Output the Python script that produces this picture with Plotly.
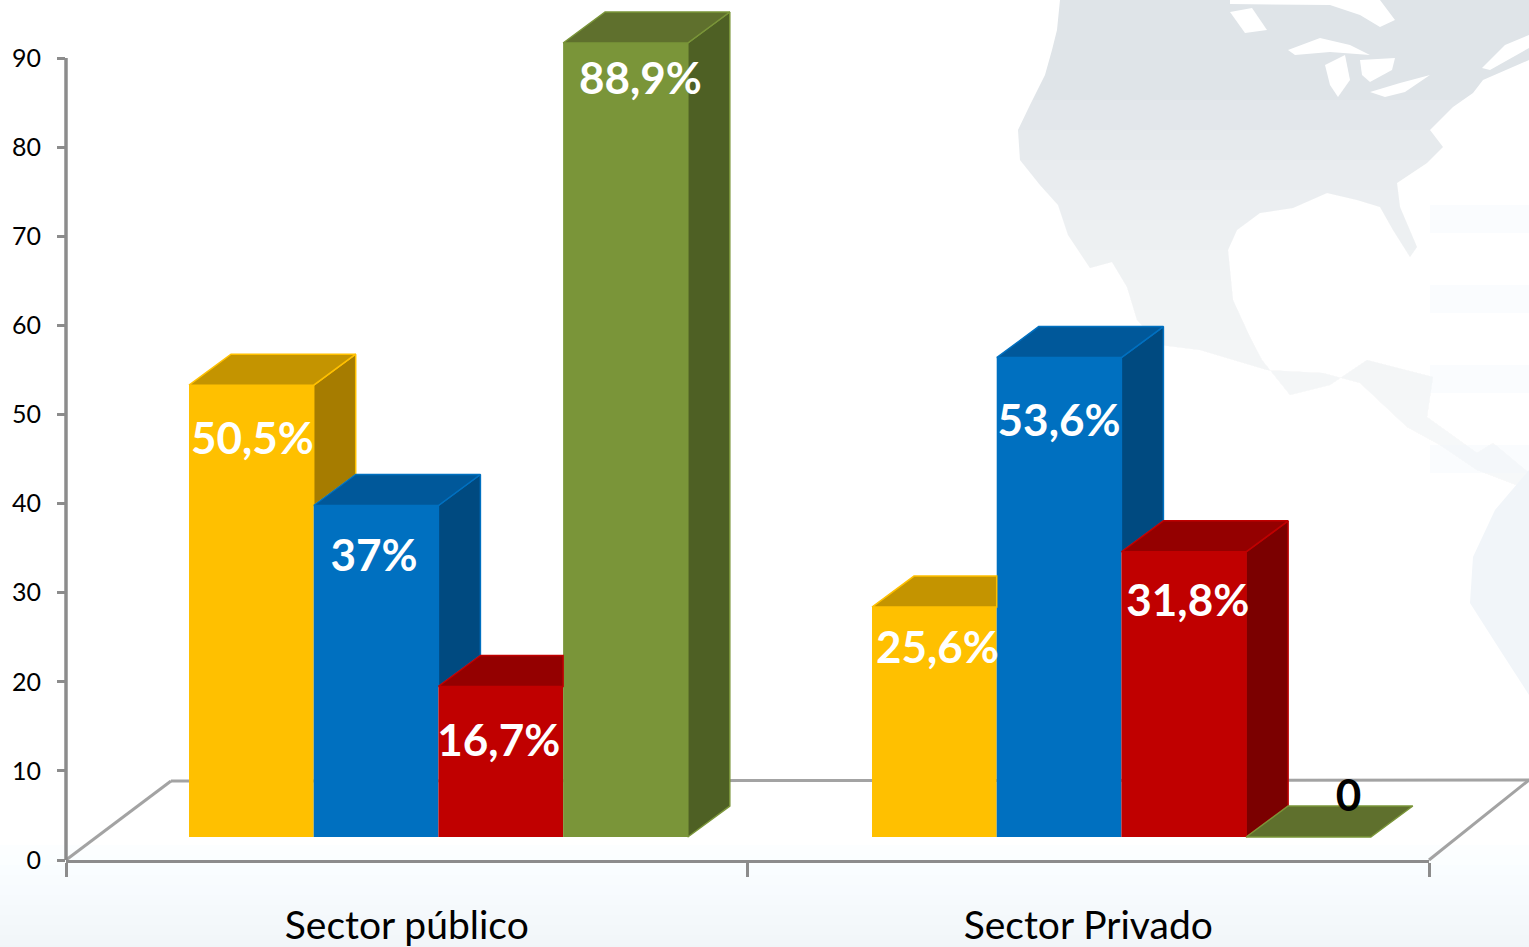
import plotly.graph_objects as go

# ---------- data ----------
categories = ["Sector público", "Sector Privado"]
series_yellow = [50.5, 25.6]
series_blue = [37.0, 53.6]
series_red = [16.7, 31.8]
series_green = [88.9, 0.0]
labels_yellow = ["50,5%", "25,6%"]
labels_blue = ["37%", "53,6%"]
labels_red = ["16,7%", "31,8%"]
labels_green = ["88,9%", "0"]
y_ticks = [0, 10, 20, 30, 40, 50, 60, 70, 80, 90]

# ---------- style ----------
W, H = 1529, 947
PX_X0, PX_X2 = 66, 1429          # pixel positions of category edges 0 and 2
PX_Y0, PX_Y90 = 860, 58          # pixel positions of axis values 0 and 90
UX = (PX_X2 - PX_X0) / 2
UY = (PX_Y0 - PX_Y90) / 90
BASE = 23 / UY                   # floor height where the bars stand
LIFT = 0.2
BAR_W = 124.7 / UX
GROUP_START = [0.1805, 0.1827]
DX, DY = 42 / UX, 31 / UY
LABEL_FONT = "Lato"
styles = [
    dict(name="Serie 1", values=series_yellow, labels=labels_yellow,
         front="#FFC000", top="#C49400", side="#A67C00", drops=[(58, 1), (45, 3)]),
    dict(name="Serie 2", values=series_blue, labels=labels_blue,
         front="#0070C0", top="#00589A", side="#004A80", drops=[(54, -2), (67, 0)]),
    dict(name="Serie 3", values=series_red, labels=labels_red,
         front="#C00000", top="#940000", side="#7B0000", drops=[(59, -2), (53, 4)]),
    dict(name="Serie 4", values=series_green, labels=labels_green,
         front="#7A9539", top="#5F702D", side="#4E6024", drops=[(40, 15), (-37, 40)]),
]


def path(points):
    return "M" + " L".join(f"{x / W:.5f},{1 - y / H:.5f}" for x, y in points) + " Z"


def poly_shape(points, color):
    return dict(type="path", xref="paper", yref="paper", path=path(points),
                fillcolor=color, line=dict(width=0), layer="below")


def rect_shape(x0, y0, x1, y1, color):
    return dict(type="rect", xref="paper", yref="paper", x0=x0 / W, x1=x1 / W,
                y0=1 - y1 / H, y1=1 - y0 / H, fillcolor=color, line=dict(width=0), layer="below")


# ---------- background decoration (pale map) ----------
north_america = [(1060, 0), (1057, 30), (1052, 50), (1045, 75), (1030, 105), (1018, 130), (1020, 160),
                 (1040, 185), (1058, 205), (1068, 235), (1090, 268), (1112, 262), (1127, 287), (1137, 320),
                 (1160, 345), (1200, 350), (1267, 370), (1323, 373), (1360, 383), (1407, 427),
                 (1440, 445), (1477, 470), (1529, 490), (1529, 473), (1493, 443), (1477, 453),
                 (1427, 417), (1433, 377), (1367, 360), (1330, 385), (1290, 395), (1262, 360),
                 (1250, 337), (1233, 300), (1228, 250), (1237, 230), (1260, 213), (1293, 208),
                 (1327, 193), (1357, 200), (1380, 207), (1393, 230), (1410, 257), (1417, 247),
                 (1400, 207), (1397, 183), (1427, 163), (1443, 147), (1430, 130), (1453, 107),
                 (1473, 93), (1483, 80), (1529, 60), (1529, 0)]
south_america = [(1529, 470), (1495, 510), (1473, 557), (1470, 603), (1500, 650), (1529, 695)]
lakes = [
    [(1288, 50), (1320, 38), (1350, 45), (1370, 55), (1330, 52), (1295, 55)],
    [(1325, 65), (1345, 55), (1350, 80), (1338, 97), (1330, 85)],
    [(1360, 60), (1395, 58), (1392, 70), (1370, 82), (1362, 75)],
    [(1370, 92), (1400, 83), (1430, 75), (1405, 92), (1385, 97)],
    [(1230, 0), (1380, 0), (1395, 20), (1380, 27), (1360, 15), (1330, 5), (1230, 4)],
    [(1230, 12), (1252, 8), (1267, 30), (1245, 33)],
    [(1482, 68), (1505, 45), (1529, 35), (1529, 48), (1490, 70)],
]
shapes = []
shapes.append(poly_shape(north_america, "#DFE4E8"))
shapes.extend(poly_shape(p, "#FFFFFF") for p in lakes)
for y0 in range(100, 460, 30):
    shapes.append(rect_shape(960, y0, W, 520, "rgba(255,255,255,0.13)"))
shapes.append(poly_shape(south_america, "#F1F5F9"))
for y0 in (205, 285, 365, 445):
    shapes.append(rect_shape(1430, y0, W, y0 + 28, "rgba(240,246,251,0.3)"))
for k in range(11):
    y0 = 845 + k * 10
    shade = 254 - k
    shapes.append(rect_shape(0, y0, W, H, f"rgba({shade - 4},{shade},{min(255, shade + 3)},0.55)"))

# floor outline and value-axis line
FLOOR = "#A3A3A3"
AXIS = "#8C8C8C"
for a, b, col, wid in [((66, 860), (171, 781), FLOOR, 3), ((171, 781), (W, 780), FLOOR, 3),
                       ((1429, 860), (1529, 780), FLOOR, 3), ((66, 58), (66, 860), AXIS, 3.5)]:
    shapes.append(dict(type="line", xref="paper", yref="paper", x0=a[0] / W, y0=1 - a[1] / H,
                       x1=b[0] / W, y1=1 - b[1] / H, line=dict(color=col, width=wid), layer="below"))

# ---------- traces ----------
fig = go.Figure()


def left_of(cat, idx):
    return cat + GROUP_START[cat] + idx * BAR_W


def height(v):
    return v + LIFT if v > 0 else 0


for idx, s in enumerate(styles):
    fig.add_trace(go.Bar(
        x=[left_of(c, idx) + BAR_W / 2 for c in range(len(categories))],
        y=[height(v) for v in s["values"]], base=BASE, width=BAR_W, name=s["name"],
        marker=dict(color=s["front"], line=dict(width=0)), cliponaxis=False, hoverinfo="skip"))


def face(points, fill, edge):
    fig.add_trace(go.Scatter(x=[p[0] for p in points], y=[p[1] for p in points], mode="lines",
                             fill="toself", fillcolor=fill, line=dict(color=edge, width=1.5),
                             cliponaxis=False, hoverinfo="skip", showlegend=False))


for c in range(len(categories)):
    for idx, s in enumerate(styles):
        xl = left_of(c, idx)
        xr = xl + BAR_W
        top = BASE + height(s["values"][c])
        nxt = BASE + height(styles[idx + 1]["values"][c]) if idx + 1 < len(styles) else None
        hidden = nxt is not None and nxt >= top
        if top > BASE and not hidden:
            lo = BASE if nxt is None else max(BASE, nxt)
            face([(xr, top), (xr + DX, top + DY), (xr + DX, lo + DY), (xr, lo), (xr, top)], s["side"], s["front"])
        xe = xr if hidden else xr + DX
        face([(xl, top), (xl + DX, top + DY), (xe, top + DY), (xr if not hidden else xe, top), (xl, top)],
             s["top"], s["front"])

for idx, s in enumerate(styles):
    for c in range(len(categories)):
        drop, shift = s["drops"][c]
        is_zero = s["values"][c] == 0
        fig.add_trace(go.Scatter(
            x=[left_of(c, idx) + BAR_W / 2 + shift / UX],
            y=[BASE + height(s["values"][c]) - drop / UY], mode="text", text=[s["labels"][c]],
            textposition="middle center",
            textfont=dict(family=LABEL_FONT, size=44, color="#000000" if is_zero else "#FFFFFF",
                          weight="bold"),
            cliponaxis=False, hoverinfo="skip", showlegend=False))

fig.update_layout(
    width=W, height=H, margin=dict(l=0, r=0, t=0, b=0, autoexpand=False), autosize=False,
    paper_bgcolor="#FFFFFF", plot_bgcolor="rgba(0,0,0,0)", showlegend=False,
    barmode="overlay", shapes=shapes,
    xaxis=dict(domain=[PX_X0 / W, PX_X2 / W], range=[0, 2], tickmode="array", tickvals=[0.5, 1.5],
               ticktext=categories, ticks="", showgrid=False, zeroline=False, showline=True,
               linecolor=AXIS, linewidth=3, tickfont=dict(family=LABEL_FONT, size=39, color="#000000"),
               ticklabelstandoff=29, anchor="y", automargin=False,
               minor=dict(tickmode="array", tickvals=[0, 1, 2], ticks="outside", ticklen=14,
                          tickwidth=3, tickcolor=AXIS, showgrid=False)),
    yaxis=dict(domain=[1 - PX_Y0 / H, 1], range=[0, PX_Y0 / UY], tickmode="array", tickvals=y_ticks,
               ticks="outside", ticklen=8, tickwidth=3, tickcolor=AXIS, showgrid=False, zeroline=False,
               showline=False, anchor="x", automargin=False,
               tickfont=dict(family=LABEL_FONT, size=25, color="#000000"), ticklabelstandoff=11),
)

fig.write_html("out.html", config=dict(displayModeBar=False),
               post_script="document.body.style.margin='0';document.documentElement.style.overflow='hidden';")
